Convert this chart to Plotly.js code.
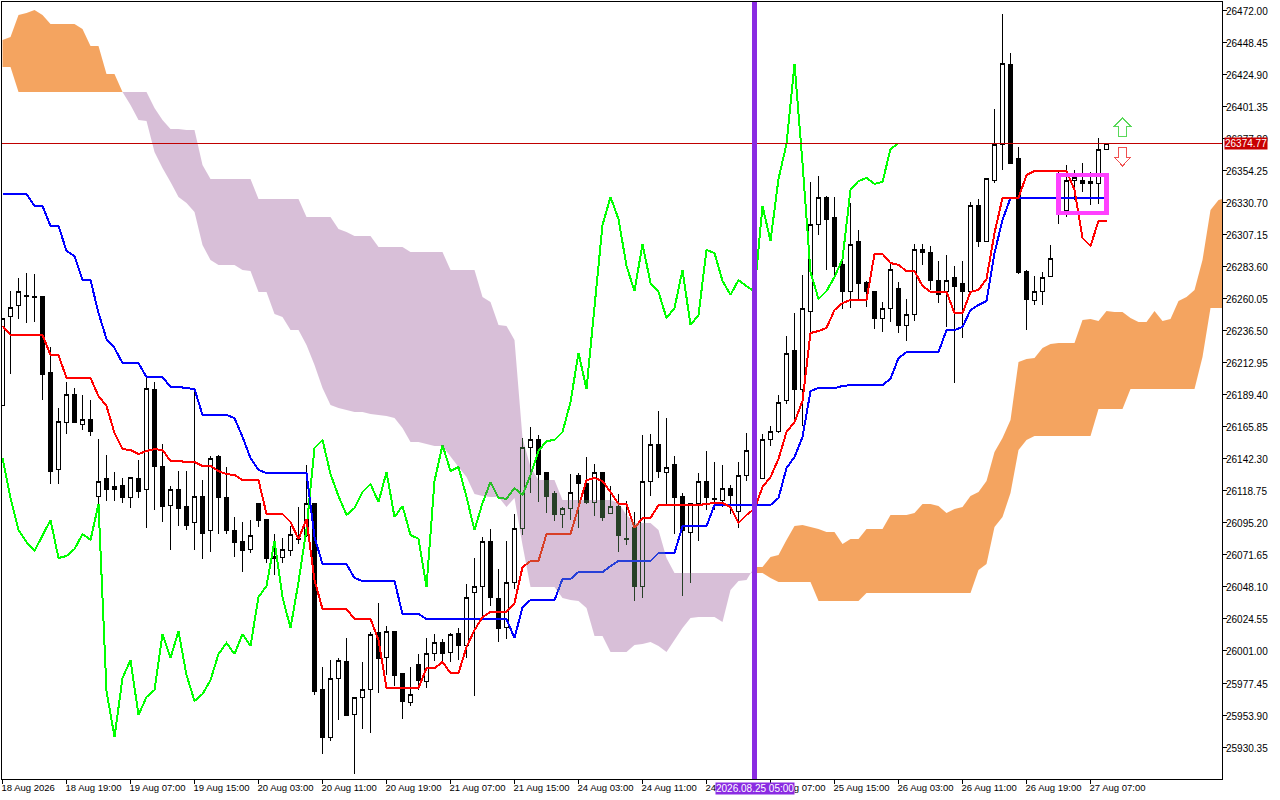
<!DOCTYPE html>
<html>
<head>
<meta charset="utf-8">
<title>Ichimoku chart</title>
<script src="https://cdn.plot.ly/plotly-3.0.1.min.js"></script>
<style>
html, body { margin: 0; padding: 0; background: #fff; }
#chart { width: 1280px; height: 800px; }
#chart .shapelayer path, #chart .scatterlayer .js-line, #chart .boxlayer path { shape-rendering: crispEdges; }
</style>
</head>
<body>
<div id="chart"></div>
<script>
var opens = [
    26182.0,26246.8,26255.6,26262.0,26262.2,26262.2,26205.6,26134.2,26169.5,26190.1,
    26168.0,26171.0,26115.0,26127.6,26121.7,26123.1,26114.3,26128.3,26119.5,26193.1,
    26137.1,26108.4,26119.5,26107.7,26095.2,26115.0,26090.0,26144.5,26114.3,26090.0,
    26081.9,26076.0,26109.2,26098.1,26069.4,26070.1,26075.3,26084.1,26086.3,26109.9,
    25973.0,25937.7,25980.4,25993.6,25954.6,25967.1,25972.3,26014.9,25996.5,26015.7,
    25984.8,25963.4,25990.7,25978.2,25999.5,26007.6,26000.2,26014.2,26004.7,26044.4,
    26048.8,26081.9,26040.0,26018.6,26051.7,26090.8,26150.4,26157.0,26132.7,26117.2,
    26101.1,26106.2,26129.8,26124.6,26110.6,26132.7,26102.5,26107.7,26083.2,26092.2,
    26048.8,26125.4,26152.6,26132.0,26137.9,26115.0,26088.5,26109.9,26126.1,26112.6,
    26112.1,26120.9,26103.3,26129.8,26148.2,26127.6,26156.3,26162.2,26185.0,26222.5,
    26193.8,26251.2,26314.5,26335.1,26319.7,26285.1,26265.2,26302.0,26272.5,26265.2,
    26246.0,26253.4,26268.1,26240.2,26248.3,26296.8,26293.9,26274.0,26265.2,26276.2,
    26271.8,26265.2,26328.5,26302.7,26346.9,26374.1,26432.3,26363.1,26280.6,26259.3,
    26265.2,26276.9,26327.0,26325.5,26346.9,26347.6,26344.7,26345.4,26370.4
];
var highs = [
    26246.0,26265.9,26275.5,26279.2,26278.4,26262.2,26224.7,26179.8,26198.9,26194.5,
    26189.4,26185.7,26157.0,26145.2,26132.7,26128.3,26129.0,26141.5,26202.6,26198.9,
    26153.3,26122.4,26133.4,26133.4,26193.1,26126.8,26144.5,26145.2,26136.4,26099.6,
    26095.9,26097.4,26109.2,26098.1,26087.1,26084.1,26092.9,26107.0,26137.9,26109.9,
    25989.2,25994.3,25995.8,26010.5,25967.1,25992.9,26014.9,26036.3,26019.4,26015.7,
    25984.8,25989.2,25998.8,26010.5,26013.5,26009.8,26014.2,26017.9,26050.3,26069.4,
    26084.9,26090.8,26061.3,26081.9,26101.8,26157.7,26165.8,26159.9,26132.7,26118.7,
    26107.0,26131.2,26132.0,26143.8,26138.6,26132.7,26122.4,26116.5,26111.4,26103.3,
    26159.9,26160.7,26177.6,26172.5,26144.5,26117.2,26109.9,26132.0,26148.2,26140.1,
    26137.9,26123.1,26140.1,26161.4,26163.6,26160.7,26166.6,26189.4,26232.8,26249.7,
    26277.7,26346.2,26350.6,26335.8,26335.1,26293.9,26330.7,26310.8,26273.3,26265.9,
    26257.8,26285.8,26272.5,26260.0,26300.5,26300.5,26299.0,26288.0,26292.4,26284.3,
    26288.0,26331.4,26333.6,26349.1,26399.9,26469.8,26441.1,26371.9,26281.4,26276.9,
    26279.9,26299.8,26355.0,26358.7,26355.0,26360.1,26353.5,26378.5,26374.77
];
var lows = [
    26182.0,26204.8,26245.3,26242.4,26243.1,26185.7,26123.9,26123.9,26160.7,26168.8,
    26163.6,26159.2,26108.4,26111.4,26111.4,26109.9,26106.2,26113.6,26091.5,26104.7,
    26095.9,26075.3,26092.9,26090.0,26075.3,26068.7,26073.8,26087.1,26087.1,26070.1,
    26059.1,26073.1,26092.2,26065.7,26056.9,26065.7,26070.9,26079.7,26084.9,25968.6,
    25925.2,25934.7,25950.2,25953.9,25910.4,25943.6,25940.6,25970.1,25983.3,25975.2,
    25950.9,25960.5,25972.3,25973.7,25993.6,25992.1,25992.9,25994.3,25995.8,25967.8,
    26026.0,26034.1,26007.6,26009.8,26046.6,26086.3,26117.2,26110.6,26102.5,26096.6,
    26091.5,26097.4,26091.5,26109.2,26100.3,26096.6,26101.8,26073.8,26079.0,26037.8,
    26040.0,26115.0,26128.3,26108.4,26087.1,26041.4,26051.0,26081.9,26104.7,26104.7,
    26107.0,26101.8,26091.5,26126.1,26145.2,26127.6,26151.8,26161.4,26182.8,26171.0,
    26166.6,26235.0,26307.1,26281.4,26277.7,26252.7,26253.4,26259.3,26254.1,26238.0,
    26235.8,26243.1,26235.0,26229.1,26243.8,26285.1,26266.7,26257.1,26239.4,26198.2,
    26231.3,26265.2,26298.3,26302.7,26345.4,26355.0,26359.4,26278.4,26237.2,26255.6,
    26255.6,26276.9,26315.2,26320.4,26332.9,26338.8,26329.2,26330.0,26370.4
];
var closes = [
    26246.0,26254.1,26265.2,26262.4,26261.5,26204.8,26133.4,26170.2,26190.1,26168.8,
    26171.0,26162.2,26126.1,26120.2,26120.2,26114.3,26129.0,26118.7,26194.5,26137.1,
    26107.0,26120.2,26106.2,26093.7,26115.0,26087.8,26143.0,26113.6,26090.0,26081.2,
    26074.6,26086.3,26097.4,26069.4,26070.9,26076.0,26087.1,26082.7,26109.2,25971.5,
    25937.7,25981.1,25994.3,25953.9,25967.1,25972.3,26013.5,25995.8,26015.7,25983.3,
    25964.2,25969.3,25979.6,25998.8,26006.9,25998.8,26013.5,26004.7,26040.7,26048.8,
    26081.9,26040.7,26017.9,26051.7,26090.8,26150.4,26156.3,26131.2,26115.0,26101.1,
    26106.2,26118.0,26123.9,26110.6,26132.7,26099.6,26107.7,26086.3,26083.6,26048.1,
    26126.1,26152.6,26133.4,26136.4,26114.3,26090.0,26109.9,26125.4,26113.6,26113.0,
    26120.9,26115.8,26130.5,26148.2,26155.5,26156.3,26162.2,26184.2,26220.3,26193.8,
    26252.7,26314.5,26335.1,26318.9,26284.3,26265.9,26300.5,26271.8,26265.2,26246.0,
    26253.4,26281.4,26240.9,26248.3,26296.1,26293.9,26273.3,26263.0,26274.0,26269.6,
    26265.2,26328.5,26302.7,26348.4,26374.1,26433.0,26360.1,26279.9,26260.0,26265.9,
    26276.2,26289.5,26340.3,26346.9,26349.1,26344.7,26346.2,26370.4,26374.77
];
var tenkan = [
    26240.2,26233.5,26233.5,26233.5,26233.5,26233.5,26218.8,26218.8,26201.9,26201.9,
    26201.9,26201.9,26188.6,26181.3,26161.4,26149.6,26148.9,26146.0,26148.2,26149.6,
    26148.9,26140.8,26140.8,26140.1,26140.1,26137.1,26137.1,26133.4,26131.2,26130.5,
    26126.8,26126.8,26126.8,26101.8,26101.8,26101.8,26095.9,26083.4,26098.1,26053.2,
    26031.9,26031.9,26031.9,26031.9,26024.5,26024.5,26024.5,26009.1,25973.7,25973.7,
    25973.7,25973.7,25973.7,25988.4,25988.4,25992.9,25984.8,25984.8,26003.9,26016.4,
    26026.0,26029.7,26029.7,26029.7,26036.3,26062.8,26067.2,26067.2,26087.1,26087.1,
    26087.1,26087.1,26107.0,26126.8,26128.3,26126.1,26118.0,26109.2,26109.2,26091.5,
    26098.9,26098.9,26108.4,26108.4,26108.4,26108.4,26108.4,26108.4,26109.2,26109.9,
    26109.9,26107.0,26095.2,26101.1,26105.5,26121.7,26129.0,26142.3,26162.2,26169.5,
    26185.0,26235.0,26236.5,26238.7,26251.9,26257.1,26259.3,26259.3,26259.3,26293.2,
    26293.2,26286.5,26285.1,26280.6,26280.6,26269.6,26265.2,26265.2,26265.2,26249.7,
    26249.7,26265.2,26266.7,26274.8,26308.6,26334.4,26334.4,26334.4,26351.3,26354.2,
    26354.2,26354.2,26354.2,26354.2,26340.3,26304.9,26299.0,26317.4,26317.4
];
var kijun = [
    26337.3,26337.3,26337.3,26337.3,26328.5,26328.5,26313.8,26313.8,26295.4,26291.7,
    26274.0,26274.0,26249.7,26230.6,26224.0,26212.9,26212.9,26212.9,26202.6,26202.6,
    26202.6,26195.3,26195.3,26194.5,26193.8,26174.7,26174.7,26174.7,26174.7,26172.5,
    26158.5,26143.0,26134.2,26132.0,26132.0,26132.0,26132.0,26132.0,26132.0,26084.9,
    26065.0,26065.0,26065.0,26065.0,26054.7,26052.5,26052.5,26052.5,26052.5,26052.5,
    26028.2,26028.2,26028.2,26024.5,26024.5,26024.5,26024.5,26024.5,26024.5,26024.5,
    26024.5,26024.5,26024.5,26024.5,26010.5,26033.3,26038.5,26038.5,26038.5,26038.5,
    26054.0,26054.0,26059.1,26059.1,26059.1,26059.1,26063.5,26067.2,26067.2,26067.2,
    26067.2,26067.2,26073.1,26073.1,26073.1,26092.9,26092.9,26092.9,26092.9,26108.4,
    26108.4,26108.4,26108.4,26108.4,26108.4,26108.4,26108.4,26113.6,26135.6,26143.8,
    26158.5,26192.3,26194.5,26194.5,26194.5,26196.0,26196.7,26196.7,26196.7,26196.7,
    26196.7,26201.2,26216.6,26221.0,26221.0,26221.0,26221.0,26221.0,26237.2,26237.2,
    26239.4,26251.9,26255.6,26258.6,26293.9,26318.2,26334.4,26334.4,26334.4,26334.4,
    26334.4,26334.4,26334.4,26334.4,26334.4,26334.4,26334.4,26334.4,26334.4
];
// chikou is plotted 26 bars behind the close it copies
var chikou = [
    26143.0,26113.6,26090.0,26081.2,26074.6,26086.3,26097.4,26069.4,26070.9,26076.0,
    26087.1,26082.7,26109.2,25971.5,25937.7,25981.1,25994.3,25953.9,25967.1,25972.3,
    26013.5,25995.8,26015.7,25983.3,25964.2,25969.3,25979.6,25998.8,26006.9,25998.8,
    26013.5,26004.7,26040.7,26048.8,26081.9,26040.7,26017.9,26051.7,26090.8,26150.4,
    26156.3,26131.2,26115.0,26101.1,26106.2,26118.0,26123.9,26110.6,26132.7,26099.6,
    26107.7,26086.3,26083.6,26048.1,26126.1,26152.6,26133.4,26136.4,26114.3,26090.0,
    26109.9,26125.4,26113.6,26113.0,26120.9,26115.8,26130.5,26148.2,26155.5,26156.3,
    26162.2,26184.2,26220.3,26193.8,26252.7,26314.5,26335.1,26318.9,26284.3,26265.9,
    26300.5,26271.8,26265.2,26246.0,26253.4,26281.4,26240.9,26248.3,26296.1,26293.9,
    26273.3,26263.0,26274.0,26269.6,26265.2,26328.5,26302.7,26348.4,26374.1,26433.0,
    26360.1,26279.9,26260.0,26265.9,26276.2,26289.5,26340.3,26346.9,26349.1,26344.7,
    26346.2,26370.4,26374.77
];
// the two cloud edges run 154 bars, they swap sides at bars 15 and 94
var spanA = [
    26450.7,26452.9,26469.1,26470.5,26472.7,26469.1,26462.4,26462.4,26462.4,26462.4,
    26458.8,26446.2,26446.2,26425.6,26425.6,26412.4,26402.8,26391.8,26391.0,26368.2,
    26356.5,26346.2,26335.1,26330.7,26324.1,26299.8,26288.7,26285.1,26285.1,26285.1,
    26281.4,26280.6,26265.2,26265.2,26249.0,26246.8,26237.2,26237.2,26226.2,26211.5,
    26194.5,26182.0,26179.8,26178.3,26176.9,26176.9,26175.4,26174.7,26173.9,26172.5,
    26165.1,26154.8,26154.8,26153.3,26151.8,26151.8,26143.8,26136.4,26129.0,26116.5,
    26115.0,26114.3,26114.3,26107.0,26113.6,26079.0,26048.1,26048.1,26048.1,26048.1,
    26040.0,26038.5,26037.8,26032.6,26012.0,26012.0,26000.2,26000.2,26000.2,26005.4,
    26006.1,26007.6,26004.7,26000.2,26009.1,26017.9,26025.3,26026.0,26026.0,26026.0,
    26022.3,26045.9,26052.5,26053.2,26062.8,26062.8,26070.1,26071.6,26082.7,26092.9,
    26093.7,26092.2,26090.8,26088.5,26088.5,26079.7,26083.4,26083.4,26090.8,26090.8,
    26090.8,26101.1,26101.1,26101.1,26102.5,26109.2,26109.2,26107.7,26102.5,26105.5,
    26107.0,26115.0,26118.0,26126.1,26147.4,26157.7,26171.0,26213.7,26215.9,26216.6,
    26224.0,26226.9,26227.7,26227.7,26227.7,26244.6,26245.3,26243.8,26251.2,26250.5,
    26250.5,26246.0,26243.1,26243.1,26251.2,26243.8,26245.3,26258.6,26261.5,26266.7,
    26288.7,26325.5,26332.9,26334.4
];
var spanB = [
    26430.8,26430.8,26412.4,26412.4,26412.4,26412.4,26412.4,26412.4,26412.4,26412.4,
    26412.4,26412.4,26412.4,26412.4,26412.4,26412.4,26412.4,26412.4,26412.4,26400.6,
    26391.8,26385.2,26385.2,26384.4,26384.4,26358.7,26348.4,26348.4,26348.4,26348.4,
    26348.4,26348.4,26333.6,26333.6,26333.6,26333.6,26333.6,26333.6,26320.4,26320.4,
    26320.4,26320.4,26311.6,26309.4,26306.4,26306.4,26306.4,26298.3,26298.3,26298.3,
    26298.3,26294.6,26294.6,26294.6,26294.6,26294.6,26281.4,26281.4,26281.4,26281.4,
    26261.5,26257.8,26240.9,26240.2,26229.9,26157.7,26136.4,26126.8,26126.8,26126.8,
    26112.1,26112.1,26112.1,26112.1,26112.1,26112.1,26112.1,26109.9,26101.1,26095.2,
    26095.2,26095.2,26090.0,26069.4,26058.4,26058.4,26058.4,26058.4,26058.4,26058.4,
    26058.4,26058.4,26058.4,26058.4,26058.4,26058.4,26054.7,26051.7,26051.7,26051.7,
    26051.7,26051.7,26037.8,26037.8,26037.8,26037.8,26037.8,26037.8,26043.7,26043.7,
    26043.7,26043.7,26043.7,26043.7,26043.7,26043.7,26043.7,26043.7,26043.7,26043.7,
    26043.7,26043.7,26060.6,26065.0,26092.2,26099.6,26117.2,26148.9,26156.3,26159.2,
    26159.2,26159.2,26159.2,26159.2,26159.2,26159.2,26159.2,26179.1,26179.1,26179.1,
    26179.1,26193.8,26193.8,26193.8,26193.8,26193.8,26193.8,26193.8,26193.8,26193.8,
    26217.4,26253.4,26253.4,26253.4
];

var yTicks = [
    26472.00,26448.45,26424.90,26401.35,26377.80,26354.25,26330.70,26307.15,
    26283.60,26260.05,26236.50,26212.95,26189.40,26165.85,26142.30,26118.75,
    26095.20,26071.65,26048.10,26024.55,26001.00,25977.45,25953.90,25930.35
];
var xTickBars = [0,8,16,24,32,40,48,56,64,72,80,88,96,104,112,120,128,136];
var xTickLabels = [
    "18 Aug 2026","18 Aug 19:00","19 Aug 07:00","19 Aug 15:00","20 Aug 03:00","20 Aug 11:00",
    "20 Aug 19:00","21 Aug 07:00","21 Aug 15:00","24 Aug 03:00","24 Aug 11:00","24 Aug 19:00",
    "25 Aug 07:00","25 Aug 15:00","26 Aug 03:00","26 Aug 11:00","26 Aug 19:00","27 Aug 07:00"
];
var lastPrice = 26374.77;
var cursorBar = 94;
var cursorLabel = "2026.08.25 05:00";
var boxBars = [132, 138];
var boxPrices = [26351.3, 26323.3];
var arrowBar = 140;
var arrowUpPrice = 26386.6;
var arrowDownPrice = 26365.2;

var uiFont = "Liberation Sans, Arial, sans-serif";
var xRange = [-0.0625, 152.4375];
var yRange = [25906.8, 26478.6];

function bars(n) {
    return Array.from({ length: n }, function (_, i) { return i; });
}

function line(y, color, name) {
    return {
        type: "scatter", mode: "lines", name: name,
        x: bars(y.length), y: y,
        line: { color: color, width: 2 }
    };
}

// one cloud stretch between bars from..to, lower edge first then the filled upper edge
function cloud(upper, lower, from, to, color) {
    var x = bars(to + 1).slice(from);
    return [
        { type: "scatter", mode: "lines", line: { width: 0 }, x: x, y: lower.slice(from, to + 1) },
        { type: "scatter", mode: "lines", line: { width: 0 }, x: x, y: upper.slice(from, to + 1),
          fill: "tonexty", fillcolor: color }
    ];
}

// the terminal paints the cloud as an inverted fill over everything, see mix-blend below
var sandy = "rgb(11,91,159)";
var thistle = "rgb(39,64,39)";
var cloudTraces = []
    .concat(cloud(spanA, spanB, 0, 15, sandy))
    .concat(cloud(spanB, spanA, 15, 94, thistle))
    .concat(cloud(spanA, spanB, 94, 153, sandy));

var traces = [
    // white sheet inside the clipped plot group, the blend needs something to work against
    { type: "bar", x: [76], y: [yRange[1] - yRange[0]], base: [yRange[0]], width: [200],
      marker: { color: "#ffffff", line: { width: 0 } } },
    {
        type: "candlestick",
        x: bars(opens.length), open: opens, high: highs, low: lows, close: closes,
        increasing: { line: { color: "#000000", width: 1 }, fillcolor: "#ffffff" },
        decreasing: { line: { color: "#000000", width: 1 }, fillcolor: "#000000" }
    },
    line(chikou, "#00ff00", "Chikou"),
    line(kijun, "#0000ff", "Kijun"),
    line(tenkan, "#ff0000", "Tenkan")
].concat(cloudTraces);

var layout = {
    width: 1280,
    height: 800,
    margin: { l: 2, r: 58, t: 2, b: 21, pad: 0 },
    paper_bgcolor: "#ffffff",
    plot_bgcolor: "#ffffff",
    showlegend: false,
    hovermode: false,
    dragmode: false,
    boxgap: 0.2,
    font: { family: uiFont, size: 10, color: "#000000" },
    xaxis: {
        range: xRange, rangeslider: { visible: false }, fixedrange: true,
        tickmode: "array", tickvals: xTickBars, ticktext: xTickLabels,
        ticks: "outside", ticklen: 4, tickwidth: 1, tickcolor: "#000000",
        ticklabelposition: "outside right", ticklabelshift: -2, tickangle: 0,
        tickfont: { family: uiFont, size: 9.5, color: "#000000" },
        showgrid: false, zeroline: false,
        showline: true, mirror: true, linecolor: "#000000", linewidth: 1
    },
    yaxis: {
        range: yRange, side: "right", fixedrange: true,
        tickmode: "array", tickvals: yTicks,
        ticktext: yTicks.map(function (v) { return v.toFixed(2); }),
        ticks: "outside", ticklen: 4, tickwidth: 1, tickcolor: "#000000",
        ticklabelstandoff: -3, ticklabelshift: 1,
        tickfont: { family: uiFont, size: 10, color: "#000000" },
        showgrid: false, zeroline: false,
        showline: true, mirror: true, linecolor: "#000000", linewidth: 1
    },
    shapes: [
        { type: "line", xref: "paper", x0: 0, x1: 1, yref: "y", y0: lastPrice, y1: lastPrice,
          line: { color: "#c00000", width: 1 } },
        { type: "line", xref: "x", x0: cursorBar, x1: cursorBar, yref: "paper", y0: 0, y1: 1,
          line: { color: "#8a2be2", width: 5 } },
        { type: "rect", xref: "x", x0: boxBars[0], x1: boxBars[1], yref: "y", y0: boxPrices[0], y1: boxPrices[1],
          line: { color: "#ff40ff", width: 4.5 } },
        { type: "path", xsizemode: "pixel", ysizemode: "pixel", xref: "x", yref: "y",
          xanchor: arrowBar, yanchor: arrowUpPrice,
          path: "M 0 9 L -8 1 L -4 1 L -4 -9 L 4 -9 L 4 1 L 8 1 Z",
          fillcolor: "#ffffff", line: { color: "#58d858", width: 1 } },
        { type: "path", xsizemode: "pixel", ysizemode: "pixel", xref: "x", yref: "y",
          xanchor: arrowBar, yanchor: arrowDownPrice,
          path: "M -4 9 L -4 -1 L -8 -1 L 0 -10 L 8 -1 L 4 -1 L 4 9 Z",
          fillcolor: "#ffffff", line: { color: "#f05050", width: 1 } }
    ],
    annotations: [
        { xref: "paper", x: 1, xanchor: "left", xshift: 2, yref: "y", y: lastPrice, yanchor: "middle",
          text: lastPrice.toFixed(2), showarrow: false, bgcolor: "#c80000", borderpad: 0,
          font: { family: uiFont, size: 10, color: "#ffffff" } },
        { xref: "x", x: cursorBar, xanchor: "center", yref: "paper", y: 0, yanchor: "top", yshift: -3,
          text: cursorLabel, showarrow: false, bgcolor: "#8a2be2", borderpad: 0,
          font: { family: uiFont, size: 10, color: "#ffffff" } }
    ]
};

Plotly.newPlot("chart", traces, layout, { displayModeBar: false, staticPlot: true }).then(function () {
    var groups = document.querySelectorAll("#chart .scatterlayer .trace");
    for (var i = groups.length - cloudTraces.length; i < groups.length; i++) {
        groups[i].style.mixBlendMode = "difference";
    }
});
</script>
</body>
</html>
